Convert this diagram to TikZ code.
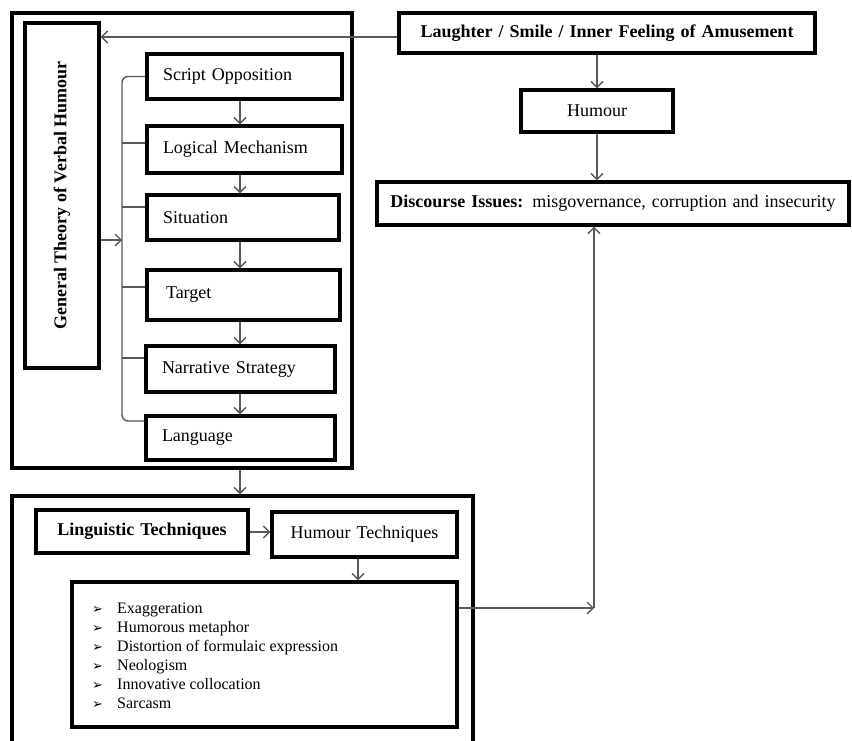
\documentclass[tikz,border=0pt]{standalone}
\usepackage{fontspec}
\setmainfont{Liberation Serif}
\newfontfamily\dvfont{DejaVu Sans}
\usetikzlibrary{arrows.meta,calc}
\newcommand{\bul}{\makebox[25pt][l]{\dvfont\fontsize{13}{14}\selectfont ➢}}
\begin{document}
\begin{tikzpicture}[x=1pt,y=-1pt,
  box/.style={draw=black,line width=3.2pt,inner ysep=0pt,font=\fontsize{18}{21}\selectfont},
  lbox/.style={box,align=left,inner xsep=16pt},
  cbox/.style={box,align=center,inner xsep=0pt},
  outerbox/.style={draw=black,line width=3.2pt,inner sep=0pt},
  conn/.style={draw=black!65,line width=1.4pt},
  arr/.style={conn,-{Straight Barb[length=6pt,width=12pt]}}]
\useasboundingbox[fill=white] (0,0) rectangle (852,740);

% outer frames
\node[outerbox,minimum width=340pt,minimum height=455pt] (oa) at (182,240.5) {};
\node[outerbox,minimum width=461pt,minimum height=264pt] (ob) at (242.5,628) {};

% GTVH
\node[cbox,rotate=90,minimum width=345pt,minimum height=74pt,font=\fontsize{18}{21}\selectfont\bfseries] (gtvh) at (62,195.5) {General Theory of Verbal Humour};

% component boxes
\node[lbox,text width=163pt,minimum height=45pt] (so) at (244.5,76.5) {Script Opposition};
\node[lbox,text width=163pt,minimum height=47pt] (lm) at (244.5,149.5) {Logical Mechanism};
\node[lbox,text width=160pt,minimum height=45pt] (sit) at (243,217.5) {Situation};
\node[lbox,text width=161pt,minimum height=50pt] (tar) at (243.5,295) {\hspace*{3pt}Target};
\node[lbox,text width=157pt,minimum height=46pt] (ns) at (240.5,369) {Narrative Strategy};
\node[lbox,text width=157pt,minimum height=44pt] (lang) at (240.5,438) {Language};

% right column
\node[cbox,text width=416pt,minimum height=40pt,font=\fontsize{18}{21}\selectfont\bfseries] (laugh) at (607,33) {Laughter / Smile / Inner Feeling of Amusement};
\node[cbox,text width=152pt,minimum height=42pt] (hum) at (597,111) {Humour};
\node[cbox,text width=472pt,minimum height=43pt] (disc) at (613,203.5) {\textbf{Discourse Issues:} misgovernance, corruption and insecurity};

% bottom part
\node[cbox,text width=212pt,minimum height=43pt,font=\fontsize{18}{21}\selectfont\bfseries] (lt) at (142,531.5) {Linguistic Techniques};
\node[cbox,text width=185pt,minimum height=45pt] (ht) at (364.5,534.5) {Humour Techniques};
\node[box,minimum width=385pt,minimum height=145pt] (list) at (264.5,654.5) {};
\node[anchor=west,align=left,inner sep=0pt,font=\fontsize{16}{19}\selectfont] (items) at (92,655.5) {%
\bul Exaggeration\\
\bul Humorous metaphor\\
\bul Distortion of formulaic expression\\
\bul Neologism\\
\bul Innovative collocation\\
\bul Sarcasm};

% bracket
\coordinate (bt) at (122,76.5);
\coordinate (bb) at (122,421);
\coordinate (k2) at (122,143);
\coordinate (k3) at (122,207);
\coordinate (k4) at (122,287);
\coordinate (k5) at (122,358);
\coordinate (kg) at (122,240);
\draw[conn,rounded corners=6pt] (so.west) -- (bt) -- (bb) -- (bb -| lang.west);
\draw[conn] (k2) -- (k2 -| lm.west);
\draw[conn] (k3) -- (k3 -| sit.west);
\draw[conn] (k4) -- (k4 -| tar.west);
\draw[conn] (k5) -- (k5 -| ns.west);
\draw[arr] (kg -| gtvh.south) -- (kg);

% chain arrows
\coordinate (colA) at (240,0);
\draw[arr] (so.south -| colA) -- (lm.north -| colA);
\draw[arr] (lm.south -| colA) -- (sit.north -| colA);
\draw[arr] (sit.south -| colA) -- (tar.north -| colA);
\draw[arr] (tar.south -| colA) -- (ns.north -| colA);
\draw[arr] (ns.south -| colA) -- (lang.north -| colA);
\draw[arr] (oa.south -| colA) -- (ob.north -| colA);

% laughter to GTVH
\coordinate (ly) at (0,37);
\draw[arr] (ly -| laugh.west) -- (ly -| gtvh.south);

% right column arrows
\coordinate (colR) at (597,0);
\draw[arr] (laugh.south -| colR) -- (hum.north -| colR);
\draw[arr] (hum.south -| colR) -- (disc.north -| colR);

% bottom arrows
\coordinate (lty) at (0,532);
\draw[arr] (lty -| lt.east) -- (lty -| ht.west);
\coordinate (colH) at (358,0);
\draw[arr] (ht.south -| colH) -- (list.north -| colH);
\coordinate (c) at (594,608);
\draw[arr] (c -| list.east) -- (c);
\draw[arr] (c) -- (c |- disc.south);
\end{tikzpicture}
\end{document}
